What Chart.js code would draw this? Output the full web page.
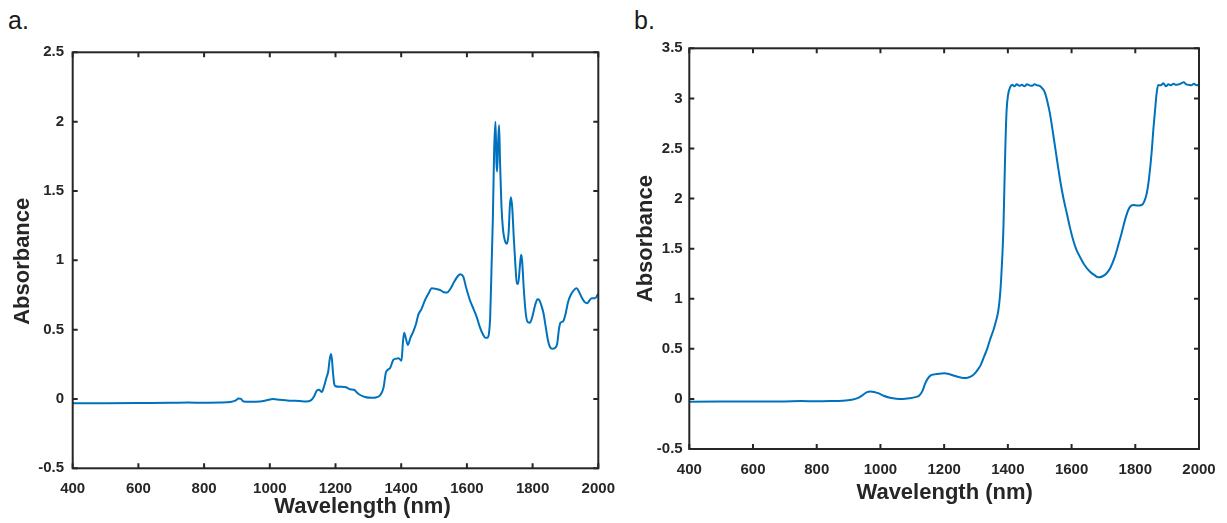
<!DOCTYPE html>
<html><head><meta charset="utf-8">
<script src="https://cdn.jsdelivr.net/npm/chart.js@4.4.1/dist/chart.umd.min.js"></script>
<style>
html,body{margin:0;padding:0;background:#fff;}
body{width:1227px;height:523px;position:relative;overflow:hidden;font-family:"Liberation Sans",Arial,sans-serif;}
.panel{position:absolute;top:0;height:523px;}
#wa{left:0;width:620px;}
#wb{left:620px;width:607px;}
.lab{position:absolute;font-size:25px;line-height:25px;color:#1a1a1a;}
</style></head><body>
<div class="lab" style="left:8px;top:8px">a.</div>
<div class="lab" style="left:634px;top:8px">b.</div>
<div class="panel" id="wa"><canvas id="ca"></canvas></div>
<div class="panel" id="wb"><canvas id="cb"></canvas></div>
<script>
// ---- data ----
const xTicks = [400, 600, 800, 1000, 1200, 1400, 1600, 1800, 2000];
const xTickLabels = ["400", "600", "800", "1000", "1200", "1400", "1600", "1800", "2000"];
const yTicksA = [-0.5, 0, 0.5, 1, 1.5, 2, 2.5];
const yTickLabelsA = ["-0.5", "0", "0.5", "1", "1.5", "2", "2.5"];
const yTicksB = [-0.5, 0, 0.5, 1, 1.5, 2, 2.5, 3, 3.5];
const yTickLabelsB = ["-0.5", "0", "0.5", "1", "1.5", "2", "2.5", "3", "3.5"];

const wavelengthA = [400,500,600,700,750,800,850,880,895,905,912,920,940,970,990,1010,1030,1060,1090,1110,1125,1135,1143,1150,1158,1165,1172,1178,1182,1186,1189,1192,1196,1200,1215,1232,1244,1256,1270,1290,1310,1325,1337,1346,1354,1366,1376,1384,1392,1401,1405,1409,1414,1420,1428,1437,1445,1452,1462,1472,1483,1493,1505,1518,1530,1540,1550,1560,1572,1580,1589,1598,1609,1620,1630,1640,1648,1656,1662,1667,1671,1675,1679,1683,1687,1690,1692,1695,1698,1701,1705,1710,1716,1722,1727,1731,1734,1738,1743,1748,1752,1756,1761,1765,1768,1773,1779,1785,1792,1800,1808,1815,1820,1826,1833,1840,1847,1853,1860,1868,1875,1880,1885,1893,1900,1908,1916,1926,1934,1942,1950,1958,1966,1973,1980,1990,2000];
const absorbanceA = [-0.031,-0.030,-0.029,-0.028,-0.026,-0.027,-0.026,-0.022,-0.012,0.003,0.000,-0.018,-0.020,-0.018,-0.010,-0.001,-0.006,-0.012,-0.015,-0.018,-0.010,0.020,0.060,0.066,0.050,0.090,0.150,0.200,0.280,0.325,0.290,0.200,0.110,0.092,0.088,0.084,0.070,0.066,0.036,0.014,0.008,0.012,0.030,0.080,0.195,0.222,0.282,0.290,0.294,0.276,0.400,0.478,0.440,0.390,0.440,0.488,0.540,0.606,0.650,0.710,0.760,0.798,0.794,0.786,0.770,0.768,0.795,0.840,0.885,0.900,0.882,0.800,0.714,0.650,0.590,0.515,0.470,0.442,0.442,0.470,0.600,0.950,1.300,1.800,2.000,1.700,1.640,1.850,1.975,1.700,1.400,1.220,1.140,1.120,1.200,1.400,1.455,1.380,1.150,0.950,0.830,0.830,0.950,1.040,1.000,0.800,0.620,0.555,0.550,0.600,0.680,0.720,0.715,0.680,0.620,0.520,0.420,0.375,0.362,0.368,0.400,0.500,0.550,0.560,0.610,0.700,0.750,0.785,0.798,0.770,0.730,0.700,0.690,0.710,0.726,0.726,0.760];

const wavelengthB = [400,500,600,700,750,800,850,880,910,930,945,958,968,980,995,1010,1030,1050,1070,1090,1110,1122,1132,1140,1148,1158,1170,1185,1200,1215,1235,1255,1270,1283,1295,1305,1315,1325,1335,1345,1355,1363,1370,1375,1379,1383,1386,1389,1392,1396,1401,1407,1414,1420,1428,1436,1444,1452,1460,1468,1476,1484,1492,1500,1508,1516,1524,1532,1540,1548,1556,1564,1574,1585,1595,1605,1615,1626,1640,1658,1672,1684,1696,1710,1722,1736,1747,1757,1768,1778,1786,1794,1806,1820,1828,1836,1843,1851,1857,1862,1867,1872,1880,1888,1896,1904,1912,1920,1928,1936,1944,1952,1960,1968,1976,1984,1992,2000];
const absorbanceB = [-0.028,-0.027,-0.026,-0.025,-0.022,-0.024,-0.021,-0.018,-0.008,0.010,0.040,0.068,0.075,0.070,0.055,0.032,0.012,0.002,0.000,0.006,0.018,0.035,0.080,0.150,0.200,0.235,0.245,0.252,0.255,0.248,0.228,0.212,0.210,0.222,0.250,0.290,0.340,0.420,0.500,0.600,0.690,0.780,0.880,1.020,1.200,1.450,1.700,2.100,2.500,2.880,3.040,3.110,3.135,3.120,3.140,3.125,3.135,3.120,3.140,3.130,3.125,3.140,3.130,3.125,3.100,3.060,2.970,2.850,2.690,2.520,2.350,2.185,2.010,1.853,1.710,1.586,1.490,1.420,1.340,1.270,1.235,1.214,1.222,1.254,1.310,1.420,1.540,1.653,1.790,1.886,1.925,1.936,1.930,1.936,1.970,2.053,2.200,2.450,2.700,2.880,3.050,3.134,3.130,3.150,3.120,3.140,3.130,3.145,3.135,3.140,3.150,3.160,3.140,3.135,3.130,3.145,3.130,3.140];

// ---- styling helpers ----
const INK = '#262626';
const LINE = '#0072BD';
const FONT = '"Liberation Sans", Arial, sans-serif';

const boxTicks = {
  id: 'boxTicks',
  afterDraw(chart, args, o) {
    const {ctx, chartArea: a, scales: {x, y}} = chart;
    const L = o.len;
    ctx.save();
    ctx.strokeStyle = INK;
    ctx.lineWidth = o.width;
    ctx.beginPath();
    x.ticks.forEach(t => {
      const px = x.getPixelForValue(t.value);
      ctx.moveTo(px, a.bottom); ctx.lineTo(px, a.bottom - L);
      ctx.moveTo(px, a.top); ctx.lineTo(px, a.top + L);
    });
    y.ticks.forEach(t => {
      const py = y.getPixelForValue(t.value);
      ctx.moveTo(a.left, py); ctx.lineTo(a.left + L, py);
      ctx.moveTo(a.right, py); ctx.lineTo(a.right - L, py);
    });
    ctx.stroke();
    ctx.strokeRect(a.left, a.top, a.right - a.left, a.bottom - a.top);
    ctx.restore();
  }
};

const axisTitles = {
  id: 'axisTitles',
  afterDraw(chart, args, o) {
    const {ctx, chartArea: a} = chart;
    ctx.save();
    ctx.fillStyle = INK;
    ctx.font = 'bold 22px ' + FONT;
    ctx.textAlign = 'center';
    ctx.textBaseline = 'middle';
    ctx.fillText(o.xText, (a.left + a.right) / 2 + o.xDx, o.xY);
    ctx.translate(o.yX, (a.top + a.bottom) / 2 + o.yDy);
    ctx.rotate(-Math.PI / 2);
    ctx.fillText(o.yText, 0, 0);
    ctx.restore();
  }
};

function makeChart(id, wl, ab, yTicks, yLabels, lay) {
  const pts = wl.map((w, i) => ({x: w, y: ab[i]}));
  return new Chart(document.getElementById(id), {
    type: 'line',
    data: {datasets: [{data: pts, borderColor: LINE, borderWidth: 2, pointRadius: 0, fill: false, cubicInterpolationMode: 'monotone'}]},
    options: {
      responsive: true, maintainAspectRatio: false, animation: false,
      layout: {padding: {top: lay.top, right: lay.right, bottom: 0, left: 0}},
      plugins: {legend: {display: false}, tooltip: {enabled: false},
        boxTicks: {len: 5, width: 2},
        axisTitles: {xText: 'Wavelength (nm)', yText: 'Absorbance', xDx: lay.xDx, xY: lay.xY, yX: lay.yX, yDy: lay.yDy}},
      scales: {
        x: {type: 'linear', min: 400, max: 2000,
          afterBuildTicks: s => { s.ticks = xTicks.map(v => ({value: v})); },
          ticks: {autoSkip: false, maxRotation: 0, color: INK, font: {family: FONT, size: 15, weight: 'bold'}, padding: lay.xPad,
            callback: v => xTickLabels[xTicks.indexOf(v)]},
          grid: {display: false, drawTicks: false}, border: {display: false},
          afterFit: s => { s.height = lay.xH; s.paddingLeft = 0; s.paddingRight = 0; }},
        y: {type: 'linear', min: yTicks[0], max: yTicks[yTicks.length - 1],
          afterBuildTicks: s => { s.ticks = yTicks.map(v => ({value: v})); },
          ticks: {autoSkip: false, color: INK, font: {family: FONT, size: 15, weight: 'bold'}, padding: lay.yPad,
            callback: v => yLabels[yTicks.indexOf(v)]},
          grid: {display: false, drawTicks: false}, border: {display: false},
          afterFit: s => { s.width = lay.yW; s.paddingTop = 0; s.paddingBottom = 0; }}
      }
    },
    plugins: [boxTicks, axisTitles]
  });
}

makeChart('ca', wavelengthA, absorbanceA, yTicksA, yTickLabelsA,
  {top: 52.3, right: 620 - 598.3, xH: 523 - 468.3, yW: 72.7, xPad: 12, yPad: 8.7, xDx: 27, xY: 507.4, yX: 23, yDy: 1});
makeChart('cb', wavelengthB, absorbanceB, yTicksB, yTickLabelsB,
  {top: 48.3, right: 607 - 579, xH: 523 - 449, yW: 69.3, xPad: 12, yPad: 6.6, xDx: 0.5, xY: 493, yX: 25.5, yDy: -10});
</script>
</body></html>
